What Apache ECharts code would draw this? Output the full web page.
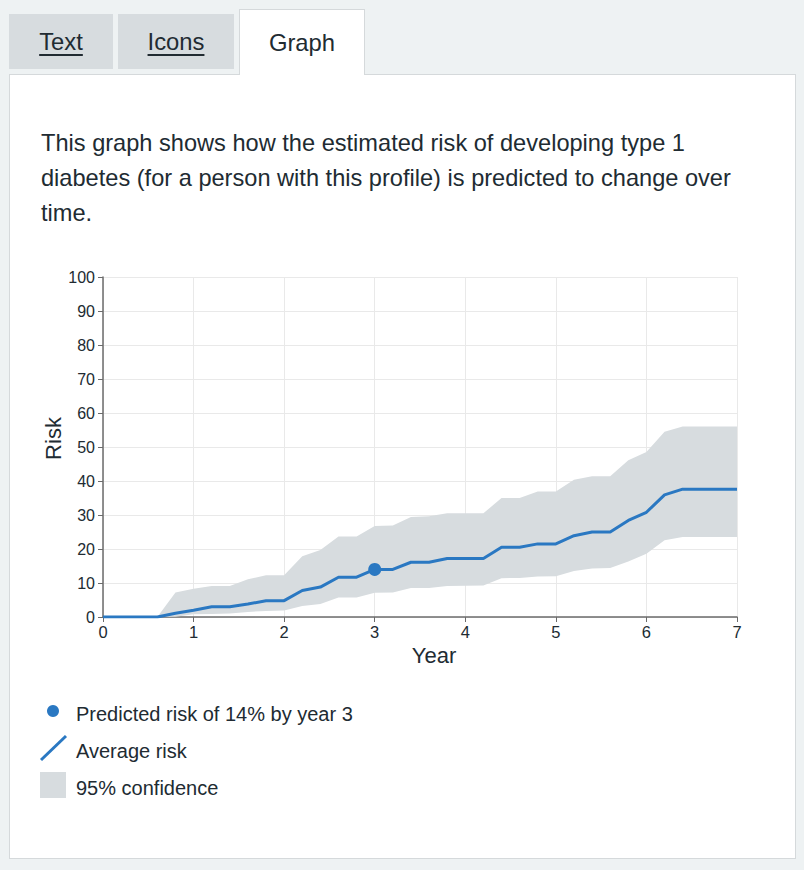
<!DOCTYPE html>
<html>
<head>
<meta charset="utf-8">
<script src="https://cdn.jsdelivr.net/npm/echarts@6/dist/echarts.min.js"></script>
<style>
  html, body { margin:0; padding:0; }
  body { width:804px; height:870px; background:#eef2f3; position:relative; overflow:hidden;
         font-family:"Liberation Sans", Arial, sans-serif; color:#212b32; }
  .tab { position:absolute; font-size:23.8px; text-align:center; box-sizing:border-box; }
  .tab.off { background:#d7dcdf; top:14px; height:55px; line-height:56px; }
  .tab.off span { text-decoration:underline; text-decoration-thickness:2px; text-underline-offset:4px; }
  .tab.on { background:#fff; top:9px; left:239px; width:126px; height:66px; line-height:66px;
            border:1px solid #d5d9db; border-bottom:none; z-index:2; }
  .panel { position:absolute; left:9px; top:74px; width:787px; height:785px; background:#fff;
           border:1px solid #d5d9db; box-sizing:border-box; }
  .intro { position:absolute; left:41px; top:126px; width:720px; font-size:23.6px; line-height:35px; margin:0; }
  #chart { position:absolute; left:0; top:0; width:804px; height:870px; z-index:3; }
</style>
</head>
<body>
<div class="tab off" style="left:9px;width:104px;"><span>Text</span></div>
<div class="tab off" style="left:118px;width:116px;"><span>Icons</span></div>
<div class="tab on">Graph</div>
<div class="panel"></div>
<p class="intro">This graph shows how the estimated risk of developing type 1 diabetes (for a person with this profile) is predicted to change over time.</p>
<div id="chart"></div>
<script>
const years = [0,0.2,0.4,0.6,0.8,1.0,1.2,1.4,1.6,1.8,2.0,2.2,2.4,2.6,2.8,3.0,3.2,3.4,3.6,3.8,4.0,4.2,4.4,4.6,4.8,5.0,5.2,5.4,5.6,5.8,6.0,6.2,6.4,6.6,6.8,7.0];
const meanRisk = [0,0,0,0,1.1,2.0,3.0,3.0,3.8,4.8,4.8,7.8,8.8,11.7,11.7,14,14,16.1,16.1,17.2,17.2,17.2,20.5,20.5,21.5,21.5,23.9,25.0,25.0,28.4,30.8,35.9,37.6,37.6,37.6,37.6];
const upperRisk = [0,0,0,0,7.2,8.3,9.1,9.1,11.1,12.3,12.3,17.9,19.7,23.7,23.7,26.8,26.9,29.4,29.6,30.5,30.5,30.5,35.0,35.0,36.9,36.9,40.4,41.4,41.4,46.1,48.5,54.5,56.0,56.0,56.0,56.0];
const lowerRisk = [0,0,0,0,0.1,0.8,0.9,1.0,1.5,1.8,1.9,3.2,3.8,5.7,5.7,7.1,7.2,8.5,8.5,9.1,9.2,9.3,11.4,11.5,11.9,12.0,13.5,14.3,14.4,16.3,18.6,22.6,23.5,23.5,23.5,23.5];
const predictedPoint = [3, 14];
const legendLabels = ["Predicted risk of 14% by year 3", "Average risk", "95% confidence"];

const BLUE = '#2a78c2', BAND = '#d7dcdf', TXT = '#212b32';
const FONT = '"Liberation Sans", Arial, sans-serif';

const bandData = years.map((x,i)=>[x, lowerRisk[i], upperRisk[i]]);

const chart = echarts.init(document.getElementById('chart'), null, {renderer:'svg'});
chart.setOption({
  animation:false,
  grid:{left:103, right:67, top:277, bottom:253},
  xAxis:{
    type:'value', min:0, max:7, interval:1,
    name:'Year', nameLocation:'middle', nameGap:27, nameMoveOverlap:false,
    nameTextStyle:{fontSize:22, color:TXT, fontFamily:FONT, padding:[0,0,0,28]},
    axisLine:{lineStyle:{color:'#6b6b6b', width:1.5}},
    axisTick:{show:true, length:5, lineStyle:{color:'#6b6b6b'}},
    axisLabel:{fontSize:16.5, color:TXT, fontFamily:FONT, margin:6},
    splitLine:{show:true, lineStyle:{color:'#e9e9e9'}}
  },
  yAxis:{
    type:'value', min:0, max:100, interval:10,
    name:'Risk', nameLocation:'middle', nameGap:39, nameMoveOverlap:false,
    nameTextStyle:{fontSize:22, color:TXT, fontFamily:FONT, padding:[0,0,0,17]},
    axisLine:{show:true, lineStyle:{color:'#6b6b6b', width:1.5}},
    axisTick:{show:true, length:5, lineStyle:{color:'#6b6b6b'}},
    axisLabel:{fontSize:16, color:TXT, fontFamily:FONT, margin:8},
    splitLine:{show:true, lineStyle:{color:'#e9e9e9'}}
  },
  series:[
    {type:'custom', data:bandData, silent:true, z:1,
     encode:{x:0, y:[1,2]},
     renderItem:function(params, api){
       if (params.dataIndex !== 0) return;
       const top = bandData.map(d=>api.coord([d[0], d[2]]));
       const bottom = bandData.map(d=>api.coord([d[0], d[1]])).reverse();
       return {type:'polygon', shape:{points:top.concat(bottom)}, style:{fill:BAND}};
     }},
    {type:'line', data:years.map((x,i)=>[x,meanRisk[i]]), symbol:'none', z:3,
     lineStyle:{color:BLUE, width:3}},
    {type:'scatter', data:[predictedPoint], symbolSize:13, itemStyle:{color:BLUE, opacity:1}, z:5}
  ],
  graphic:[
    {type:'circle', shape:{cx:53, cy:711, r:6}, style:{fill:BLUE}},
    {type:'text', left:76, top:704, style:{text:legendLabels[0], fill:TXT, font:'20px '+FONT}},
    {type:'line', shape:{x1:41, y1:760, x2:66, y2:736}, style:{stroke:BLUE, lineWidth:3}},
    {type:'text', left:76, top:741, style:{text:legendLabels[1], fill:TXT, font:'20px '+FONT}},
    {type:'rect', shape:{x:40, y:772, width:26, height:26}, style:{fill:BAND}},
    {type:'text', left:76, top:778, style:{text:legendLabels[2], fill:TXT, font:'20px '+FONT}}
  ]
});
</script>
</body>
</html>
